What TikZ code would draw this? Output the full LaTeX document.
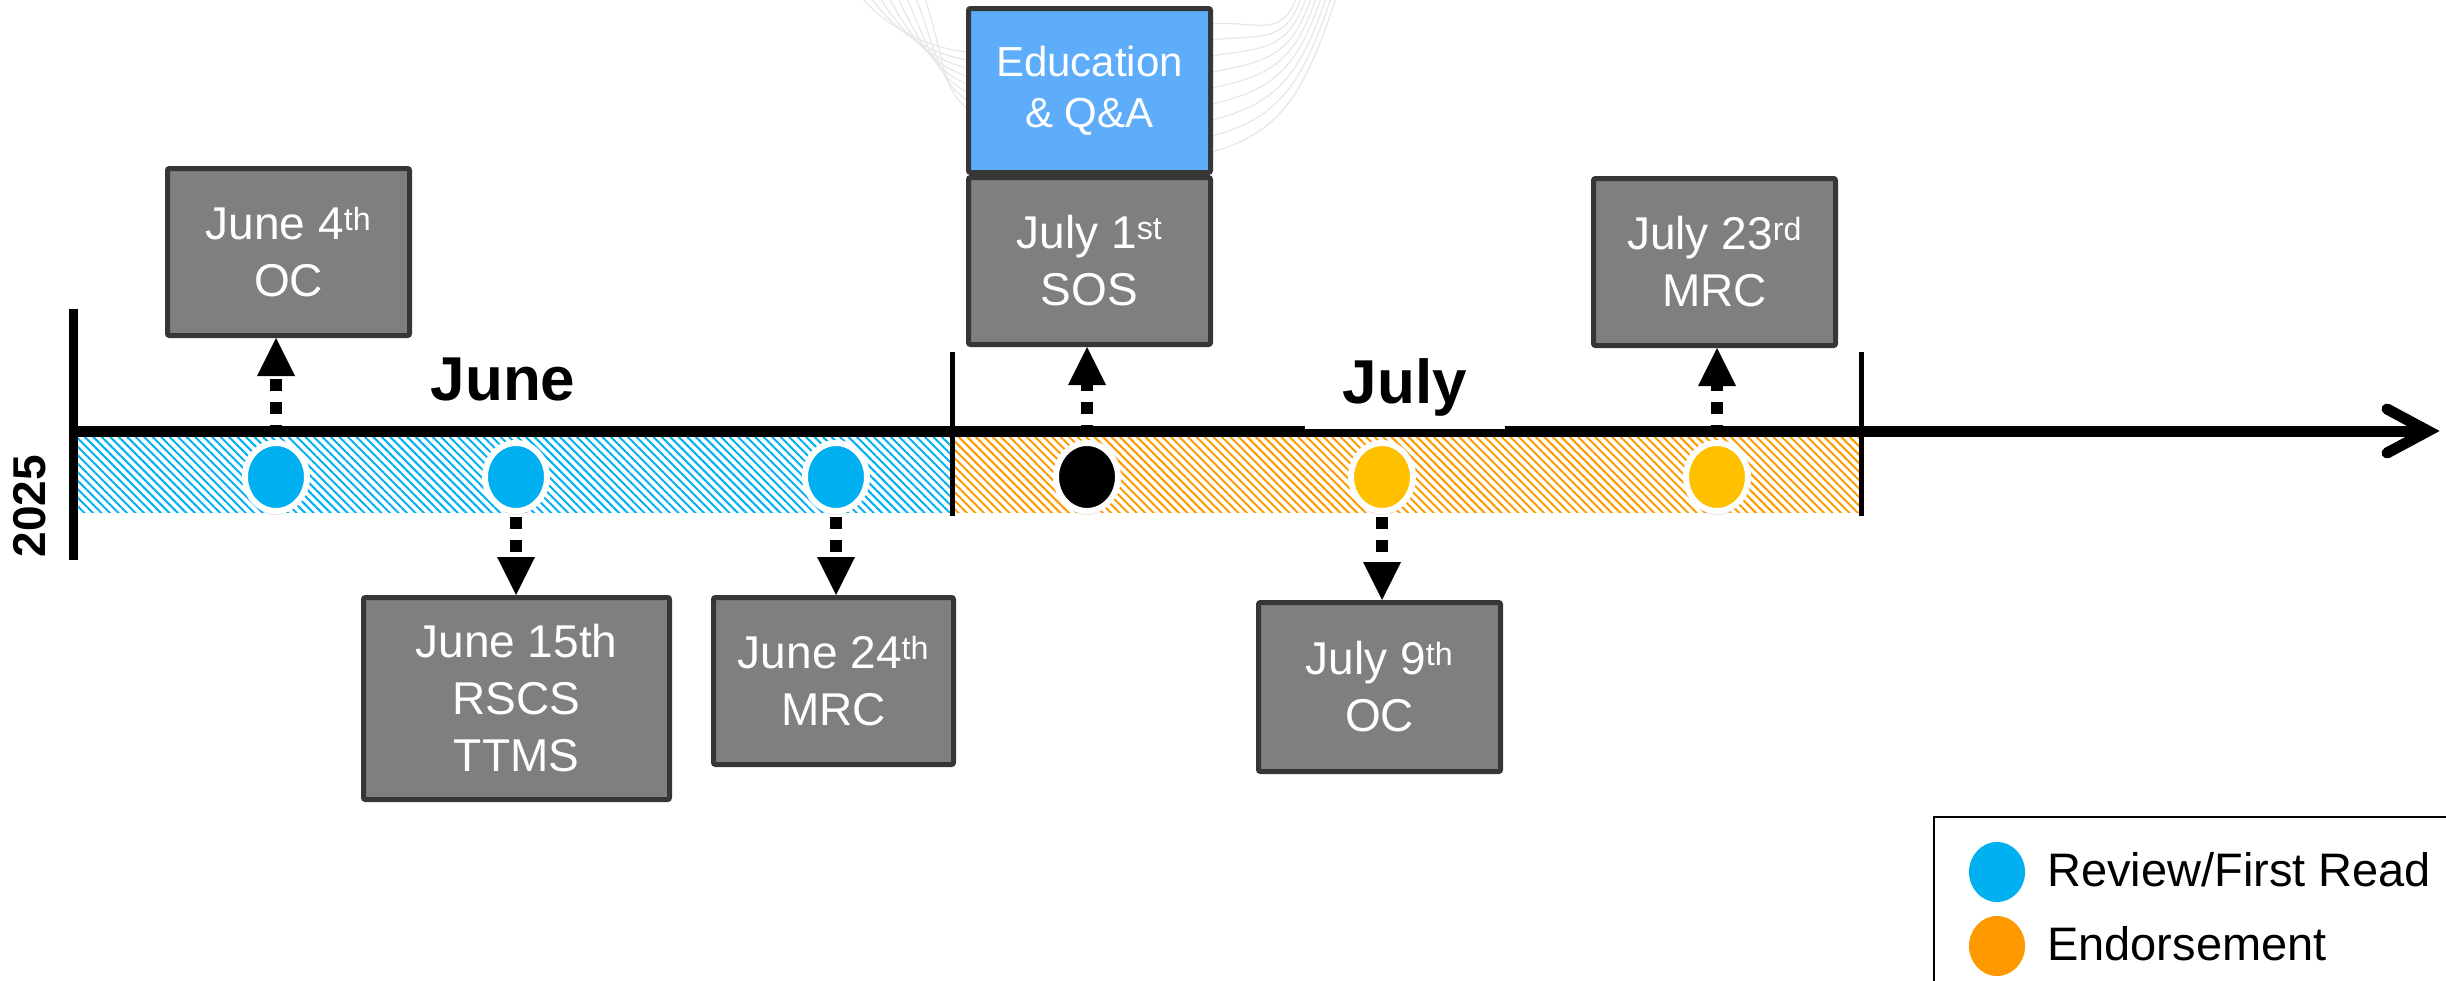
\documentclass[tikz,border=0pt]{standalone}
\usepackage{fontspec}
\setmainfont{Liberation Sans}
\usetikzlibrary{arrows.meta,shapes.geometric,patterns.meta,shadows}
\definecolor{boxgray}{HTML}{7F7F7F}
\definecolor{boxedge}{HTML}{363636}
\definecolor{edublue}{HTML}{5EADFB}
\definecolor{revblue}{HTML}{00B0F0}
\definecolor{endyel}{HTML}{FFC000}
\definecolor{endorg}{HTML}{FF9900}
\definecolor{faintgray}{HTML}{E8E8E8}
\begin{document}
\begin{tikzpicture}[x=1pt,y=-1pt,
  datebox/.style={draw=boxedge, line width=5pt, fill=boxgray, rounded corners=2pt,
    text=white, align=center, font=\fontsize{46}{57}\selectfont,
    minimum width=242pt, minimum height=167pt, inner sep=0pt},
  edubox/.style={datebox, fill=edublue, font=\fontsize{42}{51}\selectfont, minimum height=164pt},
  monthlbl/.style={font=\bfseries\fontsize{62}{70}\selectfont, inner sep=0pt},
  dot/.style={ellipse, draw=white, line width=6pt, minimum width=62pt, minimum height=68pt,
    inner sep=0pt, drop shadow={shadow xshift=0pt, shadow yshift=-4pt, opacity=0.18}},
  legdot/.style={ellipse, minimum width=56pt, minimum height=60pt, inner sep=0pt},
  legtxt/.style={anchor=west, inner sep=0pt, font=\fontsize{47}{56}\selectfont},
  darrow/.style={line width=12pt, dash pattern=on 12pt off 11pt, shorten <=3pt,
    -{Triangle[length=38pt,width=38pt,line width=0pt]}},
  faint/.style={draw=faintgray, line width=1.3pt}
]
\useasboundingbox (0,0) rectangle (2446,980);

% decorative faint curves
\foreach \i in {0,...,7} {
  \draw[faint] ({862+9*\i},-2) .. controls ({888+8*\i},{28+4*\i}) and ({928+2*\i},{48+6*\i}) .. (967,{52+8*\i});
}
\foreach \i in {0,...,8} {
  \draw[faint] (1212,{24+16*\i}) .. controls ({1252+4*\i},{20+14*\i}) and ({1282+3*\i},{40+6*\i}) .. ({1296+5*\i},-2);
}

% hatched bands
\fill[pattern={Lines[angle=-45,distance=6pt,line width=2pt]}, pattern color=revblue] (78,437) rectangle (951,512);
\fill[pattern={Lines[angle=-45,distance=6pt,line width=2pt]}, pattern color=endorg] (955,437) rectangle (1859,512);

% year bar and month dividers
\coordinate (ytop) at (73,309);
\coordinate (ybot) at (73,560);
\draw[line width=9pt] (ytop) -- (ybot);
\draw[line width=5pt] (952,352) -- (952,516);
\draw[line width=5pt] (1861,352) -- (1861,516);
\node[rotate=90, font=\bfseries\fontsize{46}{50}\selectfont, inner sep=0pt] (year) at (30,506) {2025};

% axis
\coordinate (astart) at (73,431);
\coordinate (atip) at (2428,431);
\draw[line width=11pt] (astart) -- (atip);
\draw[line width=11pt, line cap=round, line join=miter] (2387,409) -- (atip) -- (2387,453);

% month labels
\node[monthlbl, anchor=base] (june) at (503,400) {June};
\node[monthlbl, anchor=base, fill=white, minimum width=200pt, text depth=26pt] (july) at (1405,403) {July};

% milestone dots
\node[dot, fill=revblue] (c1) at (276,477) {};
\node[dot, fill=revblue] (c2) at (516,477) {};
\node[dot, fill=revblue] (c3) at (836,477) {};
\node[dot, fill=black]   (c4) at (1087,477) {};
\node[dot, fill=endyel]  (c5) at (1382,477) {};
\node[dot, fill=endyel]  (c6) at (1717,477) {};

% date boxes
\node[datebox] (b1) at (288.5,252) {June 4\textsuperscript{th}\\OC};
\node[edubox] (edu) at (1089.5,90.5) {Education\\\& Q\&A};
\node[datebox] (b4) at (1089.5,261) {July 1\textsuperscript{st}\\SOS};
\node[datebox] (b6) at (1714.5,262) {July 23\textsuperscript{rd}\\MRC};
\node[datebox, minimum width=306pt, minimum height=202pt] (b2) at (516.5,698.5) {June 15th\\RSCS\\TTMS};
\node[datebox, minimum width=240pt] (b3) at (833.5,681) {June 24\textsuperscript{th}\\MRC};
\node[datebox, minimum height=169pt] (b5) at (1379.5,687) {July 9\textsuperscript{th}\\OC};

% dashed connectors
\draw[darrow] (c1.north) -- (c1.north |- b1.south);
\draw[darrow] (c2.south) -- (c2.south |- b2.north);
\draw[darrow] (c3.south) -- (c3.south |- b3.north);
\draw[darrow] (c4.north) -- (c4.north |- b4.south);
\draw[darrow] (c5.south) -- (c5.south |- b5.north);
\draw[darrow] (c6.north) -- (c6.north |- b6.south);

% legend
\coordinate (lgr) at (2452,817);
\coordinate (lgc) at (1934,817);
\coordinate (lgb) at (1934,986);
\draw[line width=2.5pt] (lgr) -- (lgc) -- (lgb);
\node[legdot, fill=revblue] (l1) at (1997,872) {};
\node[legdot, fill=endorg] (l2) at (1997,946) {};
\node[legtxt] (t1) at (2047,870) {Review/First Read};
\node[legtxt] (t2) at (2047,944) {Endorsement};
\end{tikzpicture}
\end{document}
